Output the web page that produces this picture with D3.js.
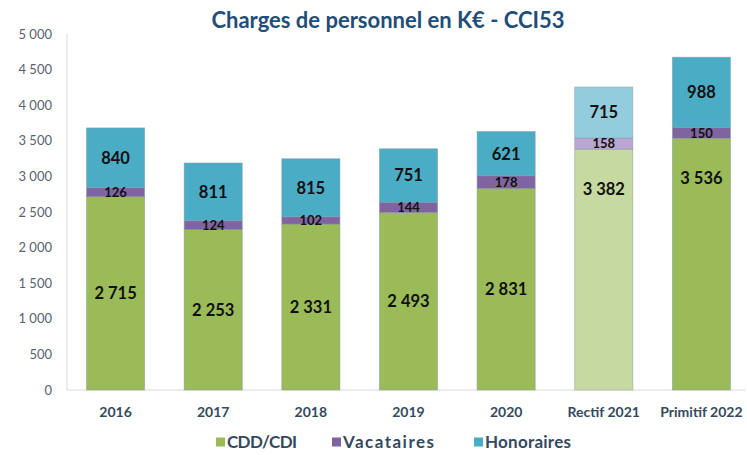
<!DOCTYPE html>
<html><head><meta charset="utf-8">
<script src="https://cdn.jsdelivr.net/npm/d3@7"></script>
<style>body{margin:0;background:#fff}svg{display:block}</style>
</head><body>
<script>
const categories = ["2016","2017","2018","2019","2020","Rectif 2021","Primitif 2022"];
const cddCdi = [2715,2253,2331,2493,2831,3382,3536];
const vacataires = [126,124,102,144,178,158,150];
const honoraires = [840,811,815,751,621,715,988];
const seriesNames = ["CDD/CDI","Vacataires","Honoraires"];
const yTicks = [0,500,1000,1500,2000,2500,3000,3500,4000,4500,5000];

const W=747,H=455;
const colors=["#9BBB59","#8064A2","#4BACC6"];
const lightColors=["#C5D9A0","#B9A6D2","#93CDDD"];
const font="Lato, 'Open Sans', sans-serif";

const svg=d3.select("body").append("svg").attr("width",W).attr("height",H);
const x=d3.scaleBand().domain(categories).range([67,750]).paddingInner(0.405).paddingOuter(0.2);
const y=d3.scaleLinear().domain([0,5000]).range([390,34]);

const data=categories.map((c,i)=>({cat:c,"CDD/CDI":cddCdi[i],"Vacataires":vacataires[i],"Honoraires":honoraires[i]}));
const stack=d3.stack().keys(seriesNames)(data);

svg.append("line").attr("x1",67).attr("x2",67).attr("y1",34).attr("y2",390).attr("stroke","#D9D9D9");
svg.append("line").attr("x1",67).attr("x2",745).attr("y1",390).attr("y2",390).attr("stroke","#D9D9D9");

const fmt=v=>d3.format(",")(v).replace(/,/g," ");
svg.append("g").selectAll("text").data(yTicks).join("text")
 .attr("x",52).attr("y",d=>y(d)).attr("dy","0.35em").attr("text-anchor","end")
 .attr("font-family",font).attr("font-size",13).attr("fill","#5A6270")
 .text(d=>fmt(d));

stack.forEach((s,si)=>{
  svg.append("g").selectAll("rect").data(s).join("rect")
   .attr("x",d=>x(d.data.cat)).attr("width",x.bandwidth())
   .attr("y",d=>y(d[1])).attr("height",d=>y(d[0])-y(d[1]))
   .attr("fill",(d,i)=>i===5?lightColors[si]:colors[si])
   .attr("stroke",(d,i)=>i===5?"#8a9a9a":"#7f9aa0").attr("stroke-width",0.8).attr("stroke-opacity",0.6);
});

stack.forEach((s,si)=>{
  svg.append("g").selectAll("text").data(s).join("text")
   .attr("x",d=>x(d.data.cat)+x.bandwidth()/2)
   .attr("y",(d,i)=>{
     if(si===0){ return i>=5 ? y(d[1])+40 : (y(d[0])+y(d[1]))/2; }
     return (y(d[0])+y(d[1]))/2;
   })
   .attr("dy","0.36em").attr("text-anchor","middle")
   .attr("font-family",font).attr("font-weight","bold")
   .attr("font-size",si===1?13:16.5).attr("fill","#111")
   .text(d=>fmt(d[1]-d[0]));
});

svg.append("g").selectAll("text").data(categories).join("text")
 .attr("x",d=>x(d)+x.bandwidth()/2).attr("y",412).attr("dy","0.35em").attr("text-anchor","middle")
 .attr("font-family",font).attr("font-weight","bold").attr("font-size",14).attr("fill","#34495E")
 .text(d=>d);

svg.append("text").attr("x",388).attr("y",20).attr("dy","0.35em").attr("text-anchor","middle")
 .attr("font-family",font).attr("font-weight","bold").attr("font-size",22).attr("fill","#1F4E79")
 .text("Charges de personnel en K€ - CCI53");

const legX=[216,332,474];
const legW=[70,91,86];
const leg=svg.append("g").selectAll("g").data(seriesNames).join("g")
 .attr("transform",(d,i)=>`translate(${legX[i]},442)`);
leg.append("rect").attr("x",0).attr("y",-4.5).attr("width",9).attr("height",9).attr("fill",(d,i)=>colors[i]);
leg.append("text").attr("x",11).attr("y",0).attr("dy","0.36em")
 .attr("textLength",(d,i)=>legW[i]).attr("lengthAdjust","spacing")
 .attr("font-family",font).attr("font-weight","bold").attr("font-size",17).attr("fill","#34495E").text(d=>d);
</script>
</body></html>
